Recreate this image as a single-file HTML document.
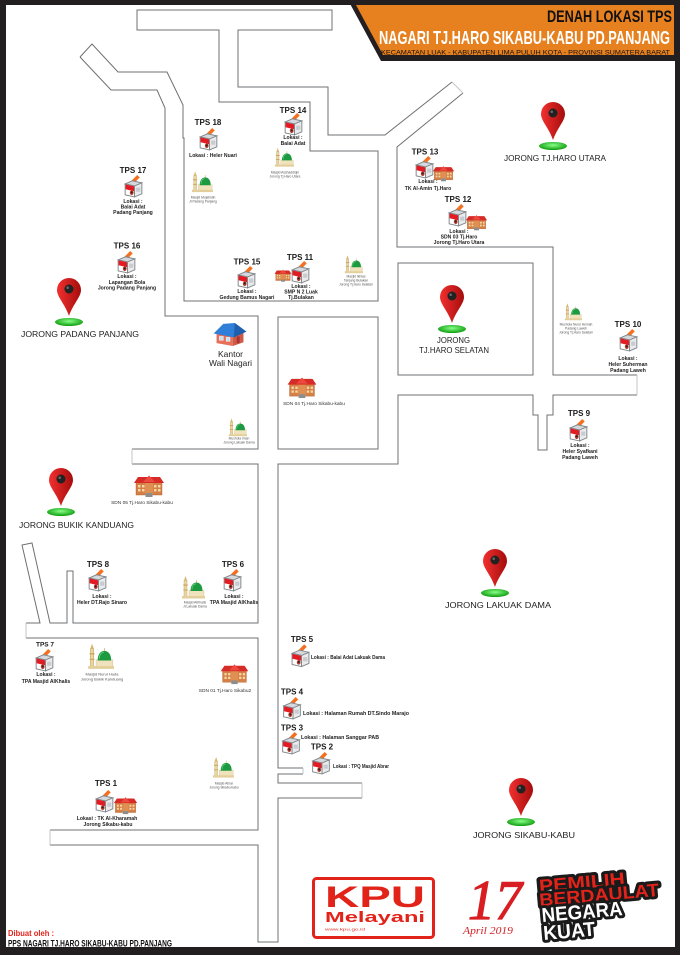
<!DOCTYPE html>
<html><head><meta charset="utf-8"><style>html,body{margin:0;padding:0;background:#fff}svg{display:block}</style></head><body>
<svg xmlns="http://www.w3.org/2000/svg" width="680" height="955" viewBox="0 0 680 955" font-family="'Liberation Sans', Arial, sans-serif">
<defs>
<linearGradient id="pinG" x1="0" x2="1"><stop offset="0" stop-color="#f23030"/><stop offset="1" stop-color="#a50c0c"/></linearGradient>
<radialGradient id="grn" cx="0.5" cy="0.4" r="0.6"><stop offset="0" stop-color="#8f8"/><stop offset="1" stop-color="#0a9a0a"/></radialGradient>
<g id="pin">
<ellipse cx="0" cy="32" rx="14" ry="4" fill="url(#grn)"/>
<path d="M-12,0 A12,12 0 1 1 12,0 C12,7 4,14 0,26 C-4,14 -12,7 -12,0Z" fill="url(#pinG)"/>
<circle cx="0" cy="-1" r="4.5" fill="#222"/>
<circle cx="-1.3" cy="-2.3" r="1.3" fill="#666"/>
</g>
<symbol id="bb" viewBox="0 0 18 23">
<polygon points="5.5,8 12.5,1 15,3.2 8.5,10" fill="#f37021"/>
<polygon points="1,9.5 8,6.5 17,8.5 10,11.5" fill="#d6d9dc" stroke="#80868b" stroke-width="0.9"/>
<polygon points="1,9.5 10,11.5 10,22 1,20" fill="#fff" stroke="#80868b" stroke-width="0.9"/>
<polygon points="1.4,10 9.6,11.9 9.6,16.5 1.4,14.6" fill="#e31b23"/>
<polygon points="10,11.5 17,8.5 17,19 10,22" fill="#e9ebec" stroke="#80868b" stroke-width="0.9"/>
<ellipse cx="7.3" cy="18" rx="1.8" ry="2.2" fill="#b23a2a"/>
<circle cx="7.3" cy="17.6" r="0.9" fill="#222"/>
<rect x="11.5" y="13" width="4" height="4" fill="#c7ccd0"/>
</symbol>
<symbol id="mq" viewBox="0 0 24 24">
<rect x="3" y="5" width="3" height="16" fill="#ead6a0" stroke="#b89c5e" stroke-width="0.4"/>
<polygon points="3,5 4.5,0.5 6,5" fill="#d7b56e"/>
<rect x="2.3" y="9" width="4.4" height="1.2" fill="#c8a45c"/>
<rect x="2.3" y="14" width="4.4" height="1" fill="#c8a45c"/>
<rect x="8" y="15" width="15" height="6" fill="#f0e2bc" stroke="#c9b07a" stroke-width="0.3"/>
<path d="M9.5,15.5 C9.5,9 13,7 15.5,7 C18,7 21.5,9 21.5,15.5 Z" fill="#1d9a3f"/>
<path d="M11,14 C11,10 13,8.5 15,8.3" stroke="#5fd07a" stroke-width="0.8" fill="none"/>
<line x1="15.5" y1="7" x2="15.5" y2="4.5" stroke="#c8a45c" stroke-width="0.6"/>
<rect x="1" y="20.5" width="23" height="2.5" fill="#e3cf9c"/>
</symbol>
<symbol id="sc" viewBox="0 0 32 24">
<rect x="3" y="8" width="26" height="13" fill="#d47f45" stroke="#a85a2a" stroke-width="0.4"/>
<rect x="5" y="11" width="2.5" height="2.5" fill="#f6d7a6"/><rect x="9" y="11" width="2.5" height="2.5" fill="#f6d7a6"/>
<rect x="21" y="11" width="2.5" height="2.5" fill="#f6d7a6"/><rect x="25" y="11" width="2.5" height="2.5" fill="#f6d7a6"/>
<rect x="5" y="15" width="2.5" height="2.5" fill="#f6d7a6"/><rect x="9" y="15" width="2.5" height="2.5" fill="#f6d7a6"/>
<rect x="21" y="15" width="2.5" height="2.5" fill="#f6d7a6"/><rect x="25" y="15" width="2.5" height="2.5" fill="#f6d7a6"/>
<rect x="12" y="6" width="8" height="15" fill="#e08f52"/>
<polygon points="1,9 5,3 27,3 31,9" fill="#d62b27"/>
<polygon points="10,8 16,1.5 22,8" fill="#ec4a3e"/>
<rect x="12.5" y="19" width="7" height="4" fill="#8d8d8d"/>
</symbol>
<symbol id="hs" viewBox="0 0 34 26">
<polygon points="3,12 20,15 20,25 3,22" fill="#e6705a"/>
<polygon points="20,15 31,11 31,21 20,25" fill="#cf5a45"/>
<rect x="6" y="15" width="4" height="4" fill="#bfe3f7" stroke="#fff" stroke-width="0.5"/>
<rect x="13" y="16" width="4" height="4" fill="#bfe3f7" stroke="#fff" stroke-width="0.5"/>
<rect x="24" y="15" width="3" height="7" fill="#a33"/>
<polygon points="0,12 10,2 22,1 34,10 21,16" fill="#2f7ed8"/>
<polygon points="21,16 34,10 22,1" fill="#1f5fae"/>
</symbol>
</defs>
<rect width="680" height="955" fill="#fff"/>

<!-- roads -->
<g fill="none" stroke="#6f7073" stroke-width="1">
<path d="M463,93 L397,147 L397,247 L553,247 L553,375 L637,375"/>
<path d="M637,395 L553,395 L553,415 L547,415 L547,450 L538,450 L538,415 L533,415 L533,395 L398,395 L398,464 L278,464 L278,768 L303,768"/>
<path d="M303,774 L278,774 L278,783 L362,783"/>
<path d="M362,798 L278,798 L278,942 L258,942 L258,845 L50,845"/>
<path d="M50,830 L258,830 L258,638 L26,638"/>
<path d="M26,623 L40,623 L22,545 L32,543 L50,623 L67,623 L67,571 L73,571 L73,623 L258,623 L258,464 L132,464"/>
<path d="M132,449 L258,449 L258,316 L165,316 L165,108 L157,90 L111,90 L80,57"/>
<path d="M80,57 L92,44 L118,72 L167,72 L183,105 L183,138 L184,138 L184,301 L378,301 L378,151 L310,151 L310,102 L219,102 L219,30 L137,30 L137,10 L332,10 L332,30 L238,30 L238,87 L328,87 L328,135 L385,135 L452,82"/>
<rect x="278" y="317" width="100" height="132"/>
<rect x="398" y="263" width="135" height="112"/>
</g>
<g fill="none" stroke="#c4c4c4" stroke-width="1">
<path d="M452,82 L463,93"/><path d="M637,375 L637,395"/><path d="M303,768 L303,774"/><path d="M362,783 L362,798"/><path d="M50,845 L50,830"/><path d="M26,638 L26,623"/><path d="M132,464 L132,449"/>
</g>

<!-- frame -->
<rect x="0" y="0" width="680" height="5" fill="#231f20"/>
<rect x="0" y="0" width="6" height="955" fill="#231f20"/>
<rect x="675" y="0" width="5" height="955" fill="#231f20"/>
<rect x="0" y="947" width="680" height="8" fill="#231f20"/>

<!-- header -->
<polygon points="348,0 680,0 680,61 381,61" fill="#231f20"/>
<polygon points="356,5 674,5 674,55 383,55" fill="#e7801f"/>
<text x="547" y="22" font-size="16.5" font-weight="bold" fill="#111" textLength="125" lengthAdjust="spacingAndGlyphs">DENAH LOKASI TPS</text>
<text x="379" y="44" font-size="18" font-weight="bold" fill="#fff" textLength="291" lengthAdjust="spacingAndGlyphs">NAGARI TJ.HARO SIKABU-KABU PD.PANJANG</text>
<text x="381" y="54.5" font-size="6.3" fill="#111" textLength="289" lengthAdjust="spacingAndGlyphs">KECAMATAN LUAK - KABUPATEN LIMA PULUH KOTA - PROVINSI SUMATERA BARAT</text>

<!-- pins -->
<use href="#pin" x="69" y="290"/>
<use href="#pin" x="61" y="480"/>
<use href="#pin" x="553" y="114"/>
<use href="#pin" x="452" y="297"/>
<use href="#pin" x="495" y="561"/>
<use href="#pin" x="521" y="790"/>
<g font-size="8.5" fill="#222">
<text x="21" y="337" textLength="118" lengthAdjust="spacingAndGlyphs">JORONG PADANG PANJANG</text>
<text x="19" y="528" textLength="115" lengthAdjust="spacingAndGlyphs">JORONG BUKIK KANDUANG</text>
<text x="504" y="161" textLength="102" lengthAdjust="spacingAndGlyphs">JORONG TJ.HARO UTARA</text>
<text x="437" y="343" textLength="33" lengthAdjust="spacingAndGlyphs">JORONG</text>
<text x="419" y="353" textLength="70" lengthAdjust="spacingAndGlyphs">TJ.HARO SELATAN</text>
<text x="445" y="608" textLength="106" lengthAdjust="spacingAndGlyphs">JORONG LAKUAK DAMA</text>
<text x="473" y="838" textLength="102" lengthAdjust="spacingAndGlyphs">JORONG SIKABU-KABU</text>
<text x="218" y="357" textLength="25" lengthAdjust="spacingAndGlyphs">Kantor</text>
<text x="209" y="366" textLength="43" lengthAdjust="spacingAndGlyphs">Wali Nagari</text>
</g>

<!-- house -->
<use href="#hs" x="213" y="322" width="34" height="25"/>

<!-- schools -->
<use href="#sc" x="286" y="376" width="32" height="23"/>
<use href="#sc" x="133" y="474" width="32" height="24"/>
<use href="#sc" x="218" y="663" width="33" height="22"/>
<use href="#sc" x="113" y="796" width="25" height="19"/>
<use href="#sc" x="274" y="266" width="18" height="19"/>
<use href="#sc" x="432" y="165" width="23" height="17"/>
<use href="#sc" x="465" y="214" width="23" height="17"/>
<g font-size="4.8" fill="#333" text-anchor="middle">
<text x="314" y="405">SDN 04 Tj.Haro Sikabu-kabu</text>
<text x="142" y="504">SDN 05 Tj.Haro Sikabu-kabu</text>
<text x="225" y="692">SDN 01 Tj.Haro Sikabu2</text>
</g>

<!-- mosques -->
<use href="#mq" x="274" y="147" width="20" height="21"/>
<use href="#mq" x="191" y="171" width="22" height="22"/>
<use href="#mq" x="344" y="254" width="19" height="21"/>
<use href="#mq" x="563" y="303" width="20" height="18"/>
<use href="#mq" x="228" y="418" width="19" height="19"/>
<use href="#mq" x="181" y="575" width="24" height="25"/>
<use href="#mq" x="87" y="643" width="27" height="27"/>
<use href="#mq" x="212" y="756" width="22" height="23"/>
<g font-size="3.3" fill="#555" text-anchor="middle">
<text x="285" y="173.5">Masjid Asshaddiqin</text><text x="285" y="177.5">Jorong Tj.Haro Utara</text>
<text x="203" y="198.5">Masjid Mujahidin</text><text x="203" y="202.5">Jl.Padang Panjang</text>
<text x="356" y="277.5">Masjid Ikhlas</text><text x="356" y="281.5">Tanjung Bulakan</text><text x="356" y="285.5">Jorong Tj.Haro Selatan</text>
<text x="576" y="325.5">Mushola Nurul Hemah</text><text x="576" y="329.5">Padang Laweh</text><text x="576" y="333.5">Jorong Tj.Haro Selatan</text>
<text x="239" y="439.5">Mushola Iman</text><text x="239" y="443.5">Jorong Lakuak Dama</text>
<text x="195" y="603.5">Masjid AlKhalis</text><text x="195" y="607.5">Jl.Lakuak Dama</text>
<text x="224" y="784.5">Masjid Abrar</text><text x="224" y="788.5">Jorong Sikabu-kabu</text>
<text x="102" y="675.5" font-size="4">Masjid Nurul Huda</text><text x="102" y="680.5" font-size="4">Jorong Bukik Kanduang</text>
</g>

<!-- ballot boxes -->
<use href="#bb" x="199" y="127" width="19" height="24"/>
<use href="#bb" x="284" y="112" width="19" height="24"/>
<use href="#bb" x="124" y="174" width="19" height="24"/>
<use href="#bb" x="117" y="250" width="19" height="24"/>
<use href="#bb" x="237" y="265" width="19" height="24"/>
<use href="#bb" x="291" y="260" width="19" height="24"/>
<use href="#bb" x="415" y="155" width="19" height="24"/>
<use href="#bb" x="448" y="203" width="19" height="24"/>
<use href="#bb" x="619" y="328" width="19" height="24"/>
<use href="#bb" x="569" y="418" width="19" height="24"/>
<use href="#bb" x="88" y="568" width="19" height="24"/>
<use href="#bb" x="223" y="568" width="19" height="24"/>
<use href="#bb" x="35" y="648" width="19" height="24"/>
<use href="#bb" x="95" y="789" width="19" height="24"/>
<use href="#bb" x="291" y="643" width="19" height="25"/>
<use href="#bb" x="282" y="696" width="20" height="24"/>
<use href="#bb" x="281" y="731" width="20" height="24"/>
<use href="#bb" x="311" y="751" width="20" height="24"/>

<!-- TPS labels -->
<g font-size="8" font-weight="bold" fill="#1a1a1a" text-anchor="middle">
<text x="208" y="125">TPS 18</text>
<text x="293" y="113">TPS 14</text>
<text x="133" y="173">TPS 17</text>
<text x="127" y="248.5">TPS 16</text>
<text x="247" y="264.5">TPS 15</text>
<text x="300" y="260">TPS 11</text>
<text x="425" y="154.5">TPS 13</text>
<text x="458" y="202">TPS 12</text>
<text x="628" y="327">TPS 10</text>
<text x="579" y="416">TPS 9</text>
<text x="98" y="567">TPS 8</text>
<text x="233" y="567">TPS 6</text>
<text x="45" y="646.5" font-size="6.5">TPS 7</text>
<text x="106" y="786">TPS 1</text>
<text x="302" y="642">TPS 5</text>
<text x="292" y="694.5">TPS 4</text>
<text x="292" y="730.5">TPS 3</text>
<text x="322" y="749.5">TPS 2</text>
</g>

<!-- Lokasi texts -->
<g font-size="5.1" font-weight="bold" fill="#222" text-anchor="middle">
<text x="213" y="157">Lokasi : Heler Nuari</text>
<text x="293" y="139">Lokasi :</text><text x="293" y="145">Balai Adat</text>
<text x="133" y="203">Lokasi :</text><text x="133" y="208.5">Balai Adat</text><text x="133" y="214">Padang Panjang</text>
<text x="127" y="278">Lokasi :</text><text x="127" y="284">Lapangan Bola</text><text x="127" y="289.5">Jorong Padang Panjang</text>
<text x="247" y="293">Lokasi :</text><text x="247" y="299">Gedung Bamus Nagari</text>
<text x="301" y="288">Lokasi :</text><text x="301" y="293.5">SMP N 2 Luak</text><text x="301" y="299">Tj.Bulakan</text>
<text x="428" y="183">Lokasi :</text><text x="428" y="190">TK Al-Amin Tj.Haro</text>
<text x="459" y="233">Lokasi :</text><text x="459" y="238.5">SDN 03 Tj.Haro</text><text x="459" y="244">Jorong Tj.Haro Utara</text>
<text x="628" y="360">Lokasi :</text><text x="628" y="366">Heler Suherman</text><text x="628" y="372">Padang Laweh</text>
<text x="580" y="447">Lokasi :</text><text x="580" y="453">Heler Syafkani</text><text x="580" y="459">Padang Laweh</text>
<text x="102" y="598">Lokasi :</text><text x="102" y="604">Heler DT.Rajo Sinaro</text>
<text x="234" y="598">Lokasi :</text><text x="234" y="604">TPA Masjid AlKhalis</text>
<text x="46" y="676">Lokasi :</text><text x="46" y="683">TPA Masjid AlKhalis</text>
<text x="107" y="820">Lokasi : TK Al-Kharamah</text><text x="108" y="826">Jorong Sikabu-kabu</text>
</g>
<g font-size="5.1" font-weight="bold" fill="#222">
<text x="311" y="659" textLength="74" lengthAdjust="spacingAndGlyphs">Lokasi : Balai Adat Lakuak Dama</text>
<text x="303" y="715" textLength="106" lengthAdjust="spacingAndGlyphs">Lokasi : Halaman Rumah DT.Sindo Marajo</text>
<text x="301" y="739" textLength="78" lengthAdjust="spacingAndGlyphs">Lokasi : Halaman Sanggar PAB</text>
<text x="333" y="768" textLength="56" lengthAdjust="spacingAndGlyphs">Lokasi : TPQ Masjid Abrar</text>
</g>

<!-- footer left -->
<text x="8" y="936" font-size="8.5" font-weight="bold" fill="#e2231a" textLength="46" lengthAdjust="spacingAndGlyphs">Dibuat oleh :</text>
<text x="8" y="946.5" font-size="9.5" font-weight="bold" fill="#111" textLength="164" lengthAdjust="spacingAndGlyphs">PPS NAGARI TJ.HARO SIKABU-KABU PD.PANJANG</text>

<!-- KPU logo -->
<rect x="313.5" y="878.5" width="120" height="59" rx="3" fill="#fff" stroke="#e2231a" stroke-width="3"/>
<text x="325" y="907" font-size="30" font-weight="bold" fill="#e2231a" textLength="100" lengthAdjust="spacingAndGlyphs">KPU</text>
<text x="325" y="922" font-size="15" font-weight="bold" fill="#e2231a" textLength="100" lengthAdjust="spacingAndGlyphs">Melayani</text>
<text x="325" y="930.5" font-size="3.5" fill="#e2231a" textLength="40" lengthAdjust="spacingAndGlyphs">www.kpu.go.id</text>

<!-- 17 April 2019 -->
<text x="468" y="919" font-family="'Liberation Serif', serif" font-style="italic" font-size="56" fill="#d81e23" stroke="#d81e23" stroke-width="1.2" textLength="54" lengthAdjust="spacingAndGlyphs">17</text>
<text x="463" y="934" font-family="'Liberation Serif', serif" font-style="italic" font-size="11" fill="#d81e23" textLength="50" lengthAdjust="spacingAndGlyphs">April 2019</text>

<!-- Pemilih Berdaulat -->
<g transform="rotate(-5 600 905)" font-weight="bold" stroke="#1a1a1a" stroke-width="6" stroke-linejoin="round" paint-order="stroke">
<text x="541" y="887" font-size="18" fill="#e2231a" textLength="86" lengthAdjust="spacingAndGlyphs">PEMILIH</text>
<text x="540" y="901" font-size="18" fill="#e2231a" textLength="120" lengthAdjust="spacingAndGlyphs">BERDAULAT</text>
<text x="541" y="917" font-size="20" fill="#fff" textLength="81" lengthAdjust="spacingAndGlyphs">NEGARA</text>
<text x="541" y="935" font-size="20" fill="#fff" textLength="52" lengthAdjust="spacingAndGlyphs">KUAT</text>
</g>
</svg>
</body></html>
